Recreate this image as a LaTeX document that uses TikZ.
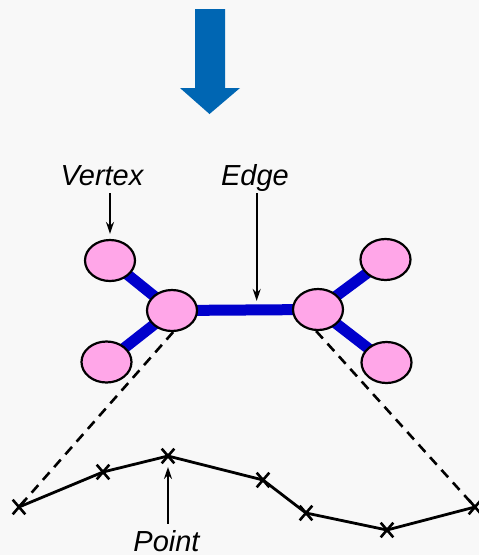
\documentclass[tikz,border=0pt]{standalone}
\usepackage{fontspec}
\setmainfont{Liberation Sans}
\usetikzlibrary{positioning,calc,arrows.meta,shapes.geometric,shapes.misc}
\pgfdeclarelayer{bg}
\pgfdeclarelayer{edges}
\pgfsetlayers{bg,edges,main}
\definecolor{arrowblue}{RGB}{0,102,179}
\definecolor{edgeblue}{RGB}{0,0,204}
\definecolor{vertpink}{RGB}{255,166,232}
\definecolor{paper}{RGB}{248,248,248}
\tikzset{
  vert/.style={ellipse,draw,line width=2.2pt,fill=vertpink,minimum width=50pt,minimum height=41pt,inner sep=0pt},
  edgeline/.style={edgeblue,line width=11pt},
  ptmark/.style={cross out,draw,line width=2.6pt,minimum width=10pt,minimum height=12pt,inner sep=0pt},
  track/.style={line width=2.8pt,line join=round},
  proj/.style={line width=2.6pt,dash pattern=on 10pt off 7pt},
  lbl/.style={font=\fontsize{29}{34}\selectfont\itshape,anchor=base,inner sep=0pt},
  pointer/.style={line width=1.8pt,-{Stealth[length=12pt,width=8pt]}}
}
\begin{document}
\begin{tikzpicture}[x=1pt,y=-1pt]
            \begin{pgfonlayer}{bg}
              \fill[paper] (0,0) rectangle (479,555);
            \end{pgfonlayer}
            \useasboundingbox (0,0) rectangle (479,555);
            % Big arrow
            \fill[arrowblue] (195,9) -- (225,9) -- (225,88) -- (240,88) -- (209.5,114) -- (180,88) -- (195,88) -- cycle;
            % Vertices
            \node[vert] (vtl) at (110,260.5) {};
            \node[vert] (vbl) at (106.5,362) {};
            \node[vert] (vl) at (172,310.5) {};
            \node[vert] (vr) at (318,309.5) {};
            \node[vert] (vtr) at (385.5,259.5) {};
            \node[vert] (vbr) at (386.5,362.5) {};
            % Edges
            \begin{pgfonlayer}{edges}
              \draw[edgeline] (vtl.center) -- (vl.center) -- (vbl.center);
              \draw[edgeline] (vl.center) -- (vr.center);
              \draw[edgeline] (vtr.center) -- (vr.center) -- (vbr.center);
            \end{pgfonlayer}
            \coordinate (emid) at ($(vl.center)!0.58!(vr.center)$);
            % Points
            \foreach \i/\x/\y in {1/19/507,2/103/472,3/168/456,4/263/480,5/306/513,6/387/530,7/475/507}
              \node[ptmark] (p\i) at (\x,\y) {};
            \draw[track] (p1.center) -- (p2.center) -- (p3.center) -- (p4.center) -- (p5.center) -- (p6.center) -- (p7.center);
            % Projection
            \begin{pgfonlayer}{edges}
              \draw[proj] (vl.-87) -- (p1.center);
              \draw[proj] (vr.-95) -- (p7.center);
            \end{pgfonlayer}
            % Labels
            \node[lbl] (vlbl) at (102,185) {Vertex};
            \node[lbl] (elbl) at (255,185) {Edge};
            \node[lbl] (plbl) at (166.5,551) {Point};
            \draw[pointer,shorten <=8pt,shorten >=5pt] (vtl |- vlbl.base) -- (vtl.north);
            \draw[pointer,shorten <=8pt,shorten >=9pt] (emid |- elbl.base) -- (emid);
            \draw[pointer,shorten <=6pt,shorten >=11pt] (p3 |- plbl.north) -- (p3.center);
        \end{tikzpicture}
\end{document}
